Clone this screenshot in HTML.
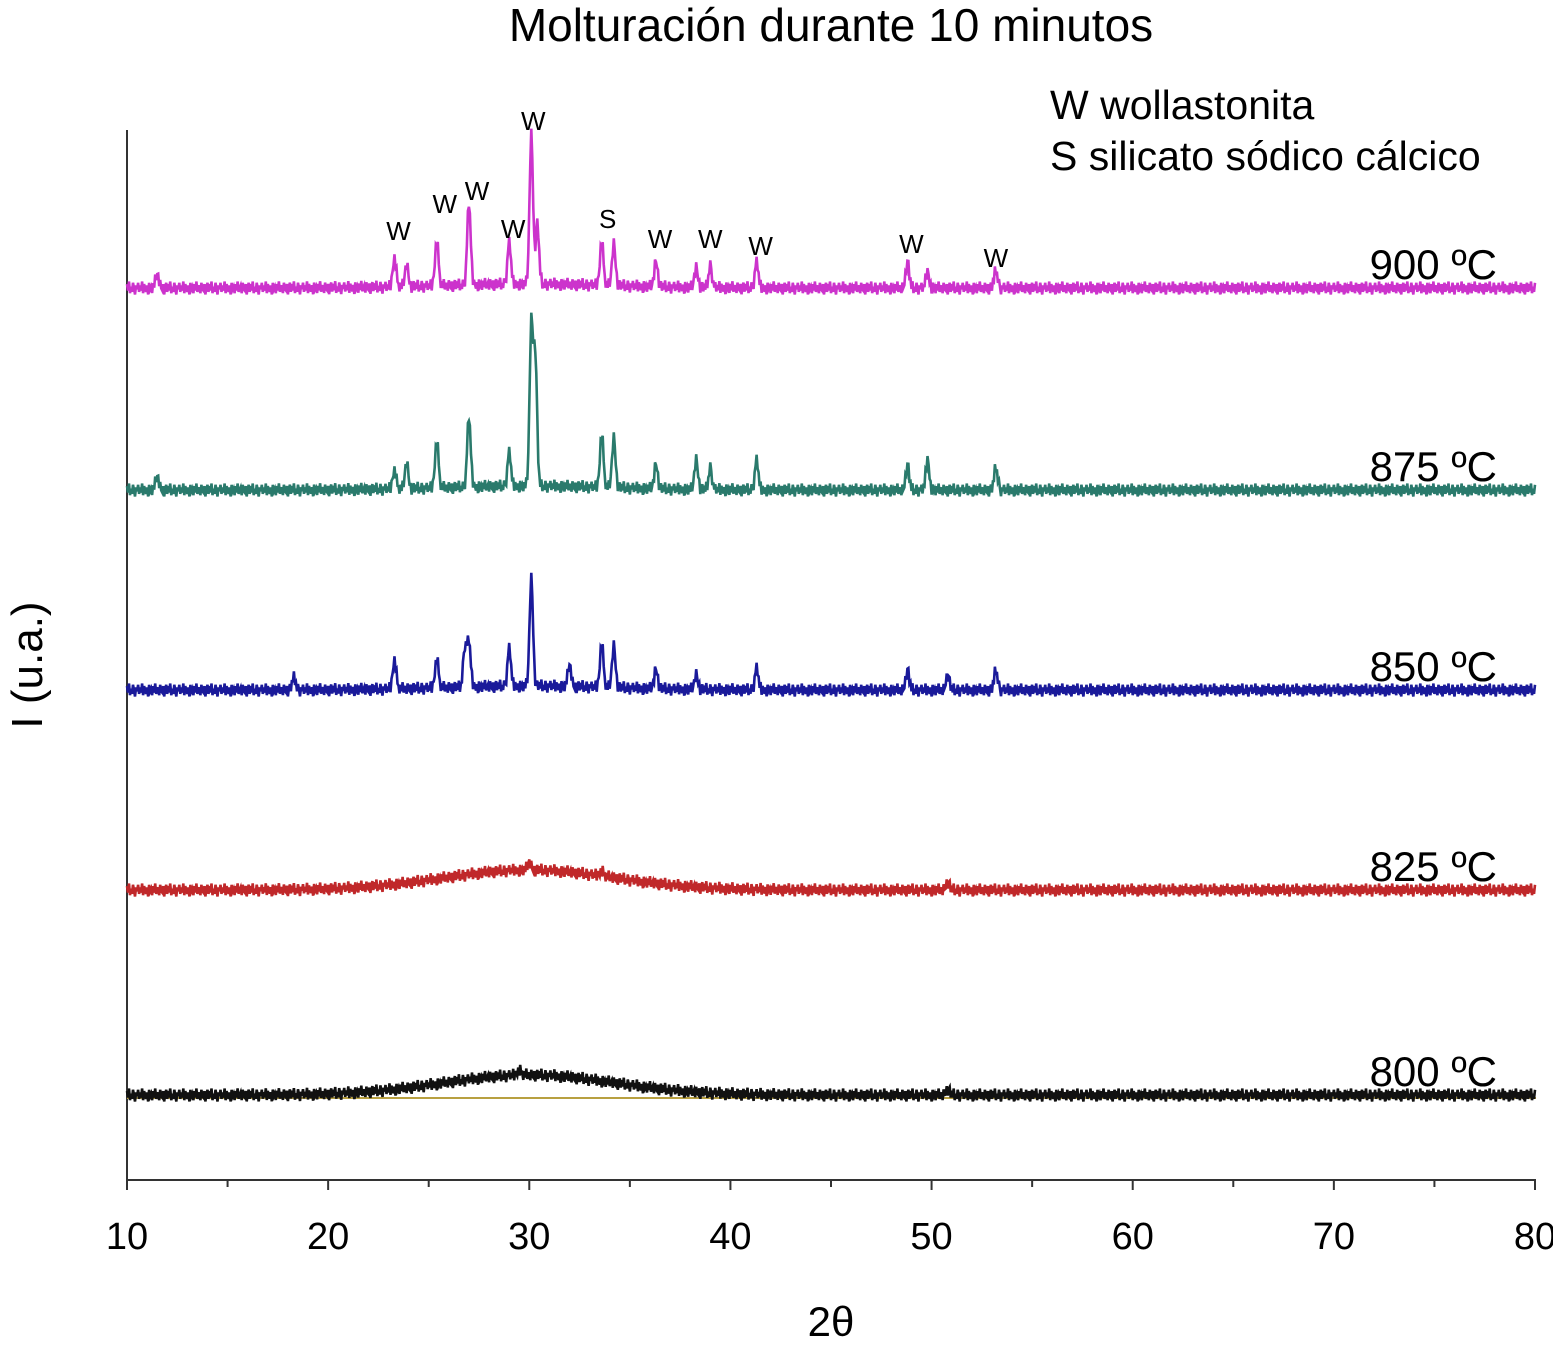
<!DOCTYPE html>
<html><head><meta charset="utf-8"><style>
body{margin:0;background:#fff;}
svg text{font-family:"Liberation Sans",sans-serif;}
</style></head><body>
<svg id="chart" width="1553" height="1345" viewBox="0 0 1553 1345" xmlns="http://www.w3.org/2000/svg">
<text x="831" y="41" font-size="46" text-anchor="middle">Molturación durante 10 minutos</text>
<text x="1050" y="119" font-size="41">W wollastonita</text>
<text x="1050" y="170" font-size="41">S silicato sódico cálcico</text>
<text transform="translate(42,665) rotate(-90)" font-size="44" text-anchor="middle">I (u.a.)</text>
<text x="831" y="1336" font-size="42" text-anchor="middle">2θ</text>
<line x1="127" y1="130" x2="127" y2="1181" stroke="#333" stroke-width="2"/>
<line x1="127" y1="1180" x2="1536" y2="1180" stroke="#333" stroke-width="2"/>
<line x1="127" y1="1098" x2="1536" y2="1098" stroke="#b8a040" stroke-width="2"/>
<g id="ticks"></g><g id="series"></g><g id="marks"></g>
</svg>
<script>
const xTicks=[10,20,30,40,50,60,70,80];
const seriesNames=["900 ºC","875 ºC","850 ºC","825 ºC","800 ºC"];
const seriesColors=["#cc33cc","#2a7a6c","#1a1a9a","#c0282a","#111111"];
const baselines=[288,490,690,890,1095];
const peaks900=[[11.5,14],[23.3,30],[23.9,22],[25.4,46],[27.0,82],[29.0,42],[30.1,150],[30.4,60],[33.6,45],[34.2,42],[36.3,26],[38.3,20],[39.0,22],[41.3,26],[48.8,26],[49.8,16],[53.2,18]];
const peaks875=[[11.5,14],[23.3,20],[23.9,26],[25.4,48],[27.0,70],[29.0,34],[30.1,160],[30.3,130],[33.6,55],[34.2,50],[36.3,25],[38.3,30],[39.0,22],[41.3,30],[48.8,25],[49.8,30],[53.2,23]];
const peaks850=[[18.3,12],[23.3,30],[25.4,30],[26.8,40],[27.0,45],[29.0,38],[30.1,108],[32.0,22],[33.6,45],[34.2,42],[36.3,20],[38.3,15],[41.3,22],[48.8,20],[50.8,15],[53.2,20]];
const peaks825=[[30.0,8],[33.6,6],[50.8,8]];
const peaks800=[[29.5,6],[50.8,6]];
const humpHeights=[4,4,4,20,20];
const noiseVals=[3,-2,5,-4,1,-3,4,0,-5,2,-1,4,-3,2,-2,5,-4,3,0,-3,2,-5,4,-1,1,-4,3,-2,5,-3,0,2,-4,4,-1,-2,3,-5,1,4,-3];
const labelText=["W","W","W","W","W","S","W","W","W","W","W"];
const labelX=[23.5,25.8,27.4,29.2,30.2,33.9,36.5,39.0,41.5,49.0,53.2];
const labelY=[230,203,190,228,120,218,238,238,245,243,257];
const allPeaks=[peaks900,peaks875,peaks850,peaks825,peaks800];
const xs=v=>127+(v-10)*(1535-127)/70;
const ns="http://www.w3.org/2000/svg";
const tg=document.getElementById("ticks");
for(let i=0;i<=14;i++){const v=10+i*5;const l=document.createElementNS(ns,"line");


l.setAttribute("x1",xs(v));l.setAttribute("x2",xs(v));l.setAttribute("y1",1180);l.setAttribute("y2",v%10===0?1190:1187);l.setAttribute("stroke","#333");l.setAttribute("stroke-width","2");tg.appendChild(l);}
xTicks.forEach(v=>{const t=document.createElementNS(ns,"text");


t.setAttribute("x",xs(v));t.setAttribute("y",1249);t.setAttribute("font-size","38");t.setAttribute("text-anchor","middle");t.textContent=v;tg.appendChild(t);});
const sg=document.getElementById("series");
allPeaks.forEach((pk,si)=>{let d="";let k=0;
for(let x=10;x<=80.001;x+=0.05){let y=humpHeights[si]*Math.exp(-Math.pow((x-30)/6,2));
pk.forEach(p=>{y+=p[1]*Math.exp(-Math.pow((x-p[0])/0.12,2));});
y+=noiseVals[k%noiseVals.length]*1.3;k++;
d+=(d?"L":"M")+xs(x).toFixed(1)+","+(baselines[si]-y).toFixed(1);}
const p=document.createElementNS(ns,"path");


p.setAttribute("d",d);p.setAttribute("fill","none");p.setAttribute("stroke",seriesColors[si]);p.setAttribute("stroke-width","2.6");sg.appendChild(p);
const t=document.createElementNS(ns,"text");


t.setAttribute("x",1497);t.setAttribute("y",baselines[si]-9);t.setAttribute("font-size","42");t.setAttribute("text-anchor","end");t.textContent=seriesNames[si];sg.appendChild(t);});
const mg=document.getElementById("marks");
labelText.forEach((s,i)=>{const t=document.createElementNS(ns,"text");


t.setAttribute("x",xs(labelX[i]));t.setAttribute("y",labelY[i]+10);t.setAttribute("font-size","26");t.setAttribute("text-anchor","middle");t.textContent=s;mg.appendChild(t);});
</script>
</body></html>
